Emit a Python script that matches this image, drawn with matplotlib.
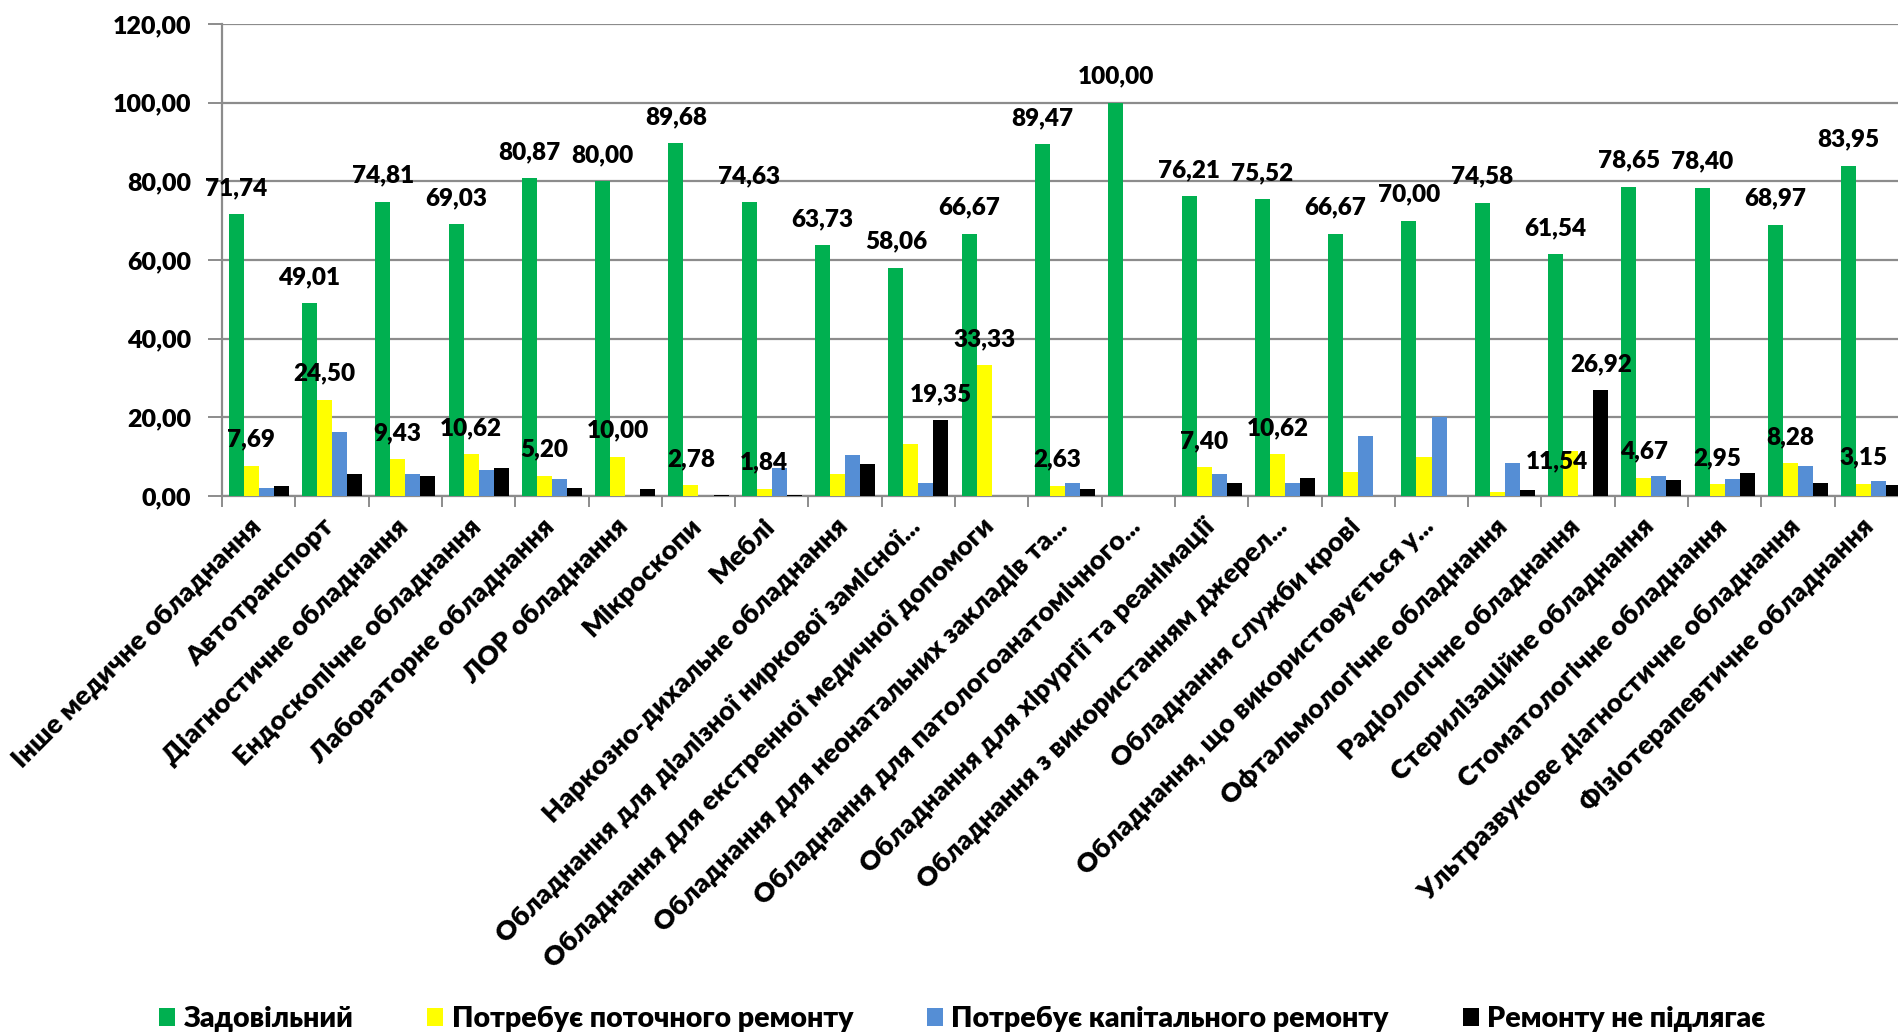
import numpy as np
import matplotlib
matplotlib.use("Agg")
import matplotlib.pyplot as plt
from matplotlib.transforms import ScaledTranslation

plt.rcParams["font.family"] = ["Lato", "Noto Sans", "DejaVu Sans"]
plt.rcParams["font.weight"] = "heavy"
W = "heavy"

categories = [
    "Інше медичне обладнання",
    "Автотранспорт",
    "Діагностичне обладнання",
    "Ендоскопічне обладнання",
    "Лабораторне обладнання",
    "ЛОР обладнання",
    "Мікроскопи",
    "Меблі",
    "Наркозно-дихальне обладнання",
    "Обладнання для діалізної ниркової замісної...",
    "Обладнання для екстренної медичної допомоги",
    "Обладнання для неонатальних закладів та...",
    "Обладнання для патологоанатомічного...",
    "Обладнання для хірургії та реанімації",
    "Обладнання з використанням джерел...",
    "Обладнання служби крові",
    "Обладнання, що використовується у...",
    "Офтальмологічне обладнання",
    "Радіологічне обладнання",
    "Стерилізаційне обладнання",
    "Стоматологічне обладнання",
    "Ультразвукове діагностичне обладнання",
    "Фізіотерапевтичне обладнання",
]

series_names = [
    "Задовільний",
    "Потребує поточного ремонту",
    "Потребує капітального ремонту",
    "Ремонту не підлягає",
]

good = [71.74, 49.01, 74.81, 69.03, 80.87, 80.00, 89.68, 74.63, 63.73, 58.06,
        66.67, 89.47, 100.00, 76.21, 75.52, 66.67, 70.00, 74.58, 61.54, 78.65,
        78.40, 68.97, 83.95]
current_repair = [7.69, 24.50, 9.43, 10.62, 5.20, 10.00, 2.78, 1.84, 5.7, 13.2,
                  33.33, 2.63, 0.0, 7.40, 10.62, 6.0, 10.0, 0.9, 11.54, 4.67,
                  2.95, 8.28, 3.15]
capital_repair = [2.1, 16.2, 5.7, 6.6, 4.2, 0.0, 0.0, 7.2, 10.5, 3.2,
                  0.0, 3.4, 0.0, 5.5, 3.2, 15.2, 20.2, 8.4, 0.0, 5.0,
                  4.4, 7.6, 3.75]
no_repair = [2.5, 5.7, 5.0, 7.0, 2.1, 1.9, 0.3, 0.3, 8.1, 19.35,
             0.0, 1.8, 0.0, 3.2, 4.7, 0.0, 0.0, 1.6, 26.92, 4.0,
             5.9, 3.4, 2.7]

# which bars carry a value label (index lists per series)
labelled = [
    list(range(23)),
    [0, 1, 2, 3, 4, 5, 6, 7, 10, 11, 13, 14, 18, 19, 20, 21, 22],
    [],
    [9, 18],
]

colors = ["#00B050", "#FFFF00", "#558ED5", "#000000"]
grid_color = "#8C8C8C"


def fmt(v):
    return f"{v:.2f}".replace(".", ",")


fig = plt.figure(figsize=(18.98, 10.35), dpi=100)
ax = fig.add_axes((222 / 1898, 1 - 496 / 1035, 1686 / 1898, 472 / 1035))

values = [good, current_repair, capital_repair, no_repair]
x = np.arange(len(categories))
width = 0.205
offsets = (np.arange(4) - 1.5) * width

# label at the yellow bar of "Радіологічне" sits lower and to the left
label_nudge = {(1, 18): (-14, -37)}

for s, vals in enumerate(values):
    ax.bar(x + offsets[s], vals, width, color=colors[s],
           label=series_names[s], zorder=3)
    for i in labelled[s]:
        dx, dy = label_nudge.get((s, i), (0, 0))
        ax.annotate(fmt(vals[i]), (x[i] + offsets[s], vals[i]),
                    xytext=(dx, 26 + dy), textcoords="offset pixels",
                    ha="center", va="center", fontsize=17.5,
                    fontweight=W, zorder=4)

ax.set_xlim(-0.5, len(categories) - 0.5)
ax.set_ylim(0, 120)
ax.set_yticks(np.arange(0, 121, 20))
ax.set_yticklabels([fmt(v) for v in np.arange(0, 121, 20)],
                   fontsize=18, fontweight=W)
ax.yaxis.grid(True, color=grid_color, linewidth=1.6, zorder=0)
ax.tick_params(axis="y", length=10, width=1.4, color=grid_color, pad=12)

ax.set_xticks(x)
ax.set_xticklabels(categories, rotation=45, ha="right",
                   rotation_mode="anchor", fontsize=19.5, fontweight=W)
ax.tick_params(axis="x", which="major", length=0, pad=13)
shift = ScaledTranslation(-10 / 100, 0, fig.dpi_scale_trans)
for lbl in ax.get_xticklabels():
    lbl.set_transform(lbl.get_transform() + shift)
ax.set_xticks(np.arange(-0.5, len(categories), 1), minor=True)
ax.tick_params(axis="x", which="minor", length=8, width=1.4, color=grid_color)

for side in ["top", "right"]:
    ax.spines[side].set_visible(False)
for side in ["left", "bottom"]:
    ax.spines[side].set_color(grid_color)
    ax.spines[side].set_linewidth(1.6)

fig.legend(loc="center", bbox_to_anchor=(0.507, 1 - 1019 / 1035), ncol=4,
           frameon=False, handlelength=0.55, handleheight=0.55,
           handletextpad=0.3, columnspacing=2.6,
           prop={"weight": W, "size": 20.5})

fig.savefig("out.png", dpi=100, facecolor="white")
